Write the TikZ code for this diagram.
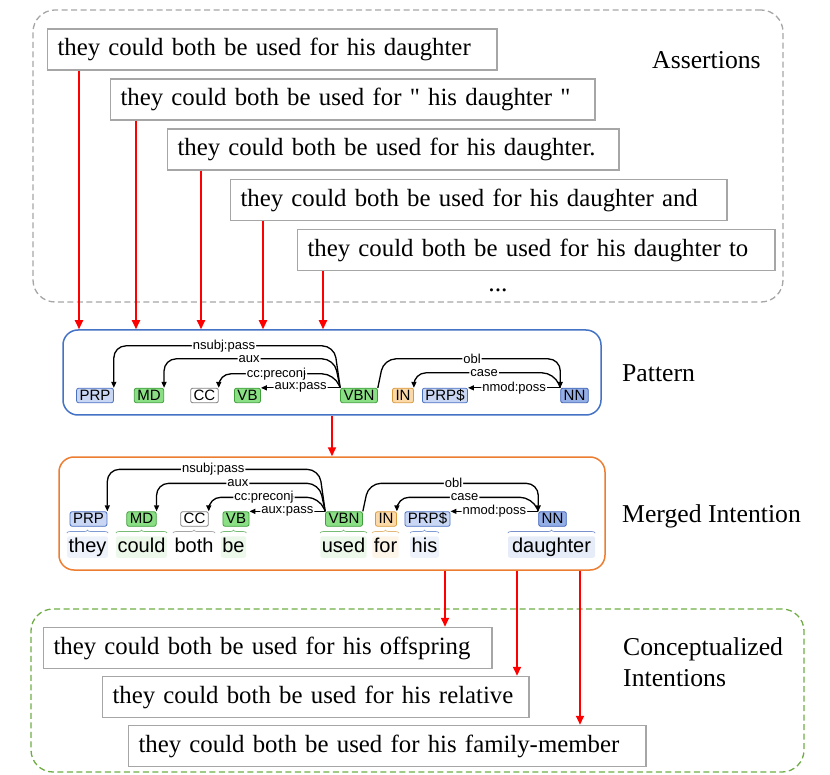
\documentclass[tikz,border=0pt]{standalone}
\usepackage{fontspec}
\setmainfont{Liberation Serif}
\setsansfont{Liberation Sans}
\newfontfamily\plainserif{Liberation Serif}
\usetikzlibrary{arrows.meta,decorations.pathreplacing}

\definecolor{boxgray}{HTML}{A6A6A6}
\definecolor{pblue}{HTML}{4472C4}
\definecolor{morange}{HTML}{ED7D31}
\definecolor{cgreen}{HTML}{70AD47}
\definecolor{prpfill}{HTML}{C9D7F4}
\definecolor{prpborder}{HTML}{4A70C2}
\definecolor{nnfill}{HTML}{94AEE6}
\definecolor{nnborder}{HTML}{3F63B8}
\definecolor{vbfill}{HTML}{8ADF84}
\definecolor{vbborder}{HTML}{3E9E3A}
\definecolor{infill}{HTML}{FBD9A8}
\definecolor{inborder}{HTML}{D99A3E}
\definecolor{ccborder}{HTML}{808080}
\definecolor{wblue}{HTML}{EEF2FB}
\definecolor{wnn}{HTML}{E6ECF8}
\definecolor{wgreen}{HTML}{ECF8E9}
\definecolor{worange}{HTML}{FDF5E8}

\tikzset{
  sentbox/.style={draw=boxgray, line width=1.5pt, inner xsep=10pt, minimum height=41pt,
    anchor=west, align=left, font=\fontsize{24.8}{30}\selectfont},
  sidetitle/.style={anchor=west, align=left, inner sep=0pt, font=\fontsize{25.7}{31}\selectfont},
  groupbox/.style={rounded corners=22pt, dash pattern=on 6pt off 3.5pt, line width=1.3pt},
  panel/.style={draw, rounded corners=15pt, line width=1.5pt},
  flowarrow/.style={draw=red, line width=2pt, -{Triangle[length=9pt,width=8pt]}},
  postag/.style={draw, rounded corners=2pt, line width=0.8pt, inner xsep=3pt, inner ysep=1pt,
    text height=11pt, text depth=1.5pt, font=\sffamily\fontsize{15}{15}\selectfont},
  prptag/.style={postag, draw=prpborder, fill=prpfill},
  nntag/.style={postag, draw=nnborder, fill=nnfill},
  vbtag/.style={postag, draw=vbborder, fill=vbfill},
  intag/.style={postag, draw=inborder, fill=infill},
  cctag/.style={postag, draw=ccborder, fill=white},
  tokbox/.style={rounded corners=2pt, inner xsep=1.5pt, inner ysep=1pt, text height=15pt,
    text depth=4.5pt, font=\sffamily\fontsize{20}{20}\selectfont},
  deplbl/.style={fill=white, inner xsep=1pt, inner ysep=0.5pt, font=\sffamily\fontsize{13}{13}\selectfont},
  deparc/.style={draw=black, line width=1.3pt, rounded corners=12pt, -{Triangle[length=6pt,width=5pt]}},
  brc/.style={decorate, decoration={brace, amplitude=3pt, raise=3pt}, line width=0.7pt},
}

\begin{document}
\begin{tikzpicture}[x=1pt,y=-1pt]
\useasboundingbox (0,0) rectangle (830,775);

% outer groups and panels
\node[groupbox, draw=boxgray, minimum width=750pt, minimum height=292pt] (asrtG) at (408,156) {};
\node[groupbox, draw=cgreen, minimum width=773pt, minimum height=163pt] (concG) at (417.5,690.5) {};
\node[panel, draw=pblue, minimum width=538pt, minimum height=85pt] (pattern) at (332,372.5) {};
\node[panel, draw=morange, minimum width=546pt, minimum height=113pt] (merged) at (332,513.5) {};

\node[sidetitle] (asrtT) at (652,60) {Assertions};
\node[sidetitle] (patT) at (622,373.5) {Pattern};
\node[sidetitle] (merT) at (622,516) {Merged Intention};
\node[sidetitle] (conT) at (623,662) {Conceptualized\\Intentions};

% assertions
\node[sentbox, text width=429.5pt] (a1) at (46.75,49.5) {they could both be used for his daughter};
\node[sentbox, text width=464.5pt] (a2) at (109.75,99.5) {they could both be used for {\plainserif"} his daughter {\plainserif"}};
\node[sentbox, text width=431.5pt] (a3) at (166.75,149.5) {they could both be used for his daughter.};
\node[sentbox, text width=476.5pt] (a4) at (229.75,200) {they could both be used for his daughter and};
\node[sentbox, text width=457.5pt] (a5) at (296.75,250) {they could both be used for his daughter to};
\node[inner sep=0pt, anchor=base, font=\fontsize{25.7}{30}\selectfont] (more) at (498,292) {...};

\draw[flowarrow] (a1.south -| 79,0) -- (pattern.north -| 79,0);
\draw[flowarrow] (a2.south -| 136,0) -- (pattern.north -| 136,0);
\draw[flowarrow] (a3.south -| 201,0) -- (pattern.north -| 201,0);
\draw[flowarrow] (a4.south -| 263,0) -- (pattern.north -| 263,0);
\draw[flowarrow] (a5.south -| 323,0) -- (pattern.north -| 323,0);

% pattern
\node[prptag] (prpP) at (95,395.5) {PRP};
\node[vbtag] (mdP) at (149,395.5) {MD};
\node[cctag] (ccP) at (204.5,395.5) {CC};
\node[vbtag] (vbP) at (247.5,395.5) {VB};
\node[vbtag] (vbnP) at (359,395.5) {VBN};
\node[intag] (inP) at (403,395.5) {IN};
\node[prptag] (prpsP) at (445,395.5) {PRP\$};
\node[nntag] (nnP) at (574.5,395.5) {NN};

\draw[deparc] (vbnP.north west) -- ++(-6,-42) -| node[deplbl,pos=.25] {nsubj:pass} (prpP.north east);
\draw[deparc] (vbnP.north west) -- ++(-6,-29) -| node[deplbl,pos=.25] {aux} (mdP.north east);
\draw[deparc] (vbnP.north west) -- ++(-6,-14) -| node[deplbl,pos=.25] {cc:preconj} (ccP.north east);
\draw[deparc] (vbnP.north west) -- node[deplbl] {aux:pass} (vbP.north east);
\draw[deparc] (vbnP.north east) -- ++(6,-29) -| node[deplbl,pos=.25] {obl} (nnP.north west);
\draw[deparc] (nnP.north west) -- ++(-6,-15) -| node[deplbl,pos=.25] {case} (inP.north east);
\draw[deparc] (nnP.north west) -- node[deplbl] {nmod:poss} (prpsP.north east);

\draw[flowarrow] (pattern.south) -- (merged.north);

% merged intention
\node[prptag] (prpM) at (88.5,519) {PRP};
\node[vbtag] (mdM) at (141.5,519) {MD};
\node[cctag] (ccM) at (194.5,519) {CC};
\node[vbtag] (vbM) at (236,519) {VB};
\node[vbtag] (vbnM) at (344,519) {VBN};
\node[intag] (inM) at (386,519) {IN};
\node[prptag] (prpsM) at (427.5,519) {PRP\$};
\node[nntag] (nnM) at (552.5,519) {NN};

\node[tokbox, fill=wblue] (theyW) at (87.5,547) {they};
\node[tokbox, fill=wgreen] (couldW) at (141.5,547) {could};
\node[tokbox, fill=white] (bothW) at (194,547) {both};
\node[tokbox, fill=wgreen] (beW) at (233.5,547) {be};
\node[tokbox, fill=wgreen] (usedW) at (343.5,547) {used};
\node[tokbox, fill=worange] (forW) at (385.5,547) {for};
\node[tokbox, fill=wblue] (hisW) at (424.5,547) {his};
\node[tokbox, fill=wnn, minimum width=87pt] (daughterW) at (551.5,547) {daughter};

\draw[brc, prpborder!70] (theyW.north west) -- (theyW.north east);
\draw[brc, vbborder!70] (couldW.north west) -- (couldW.north east);
\draw[brc, ccborder!70] (bothW.north west) -- (bothW.north east);
\draw[brc, vbborder!70] (beW.north west) -- (beW.north east);
\draw[brc, vbborder!70] (usedW.north west) -- (usedW.north east);
\draw[brc, inborder!70] (forW.north west) -- (forW.north east);
\draw[brc, prpborder!70] (hisW.north west) -- (hisW.north east);
\draw[brc, nnborder!70] (daughterW.north west) -- (daughterW.north east);

\draw[deparc] (vbnM.north west) -- ++(-6,-42) -| node[deplbl,pos=.25] {nsubj:pass} (prpM.north east);
\draw[deparc] (vbnM.north west) -- ++(-6,-28) -| node[deplbl,pos=.25] {aux} (mdM.north east);
\draw[deparc] (vbnM.north west) -- ++(-6,-14) -| node[deplbl,pos=.25] {cc:preconj} (ccM.north east);
\draw[deparc] (vbnM.north west) -- node[deplbl] {aux:pass} (vbM.north east);
\draw[deparc] (vbnM.north east) -- ++(6,-28) -| node[deplbl,pos=.25] {obl} (nnM.north west);
\draw[deparc] (nnM.north west) -- ++(-6,-14) -| node[deplbl,pos=.25] {case} (inM.north east);
\draw[deparc] (nnM.north west) -- node[deplbl] {nmod:poss} (prpsM.north east);

% conceptualized intentions
\node[sentbox, text width=428.5pt] (c1) at (42.75,648) {they could both be used for his offspring};
\node[sentbox, text width=406.5pt] (c2) at (101.75,697) {they could both be used for his relative};
\node[sentbox, text width=497.5pt] (c3) at (127.75,746) {they could both be used for his family-member};

\draw[flowarrow] (merged.south -| 445,0) -- (c1.north -| 445,0);
\draw[flowarrow] (merged.south -| 517,0) -- (c2.north -| 517,0);
\draw[flowarrow] (merged.south -| 580,0) -- (c3.north -| 580,0);
\end{tikzpicture}
\end{document}
